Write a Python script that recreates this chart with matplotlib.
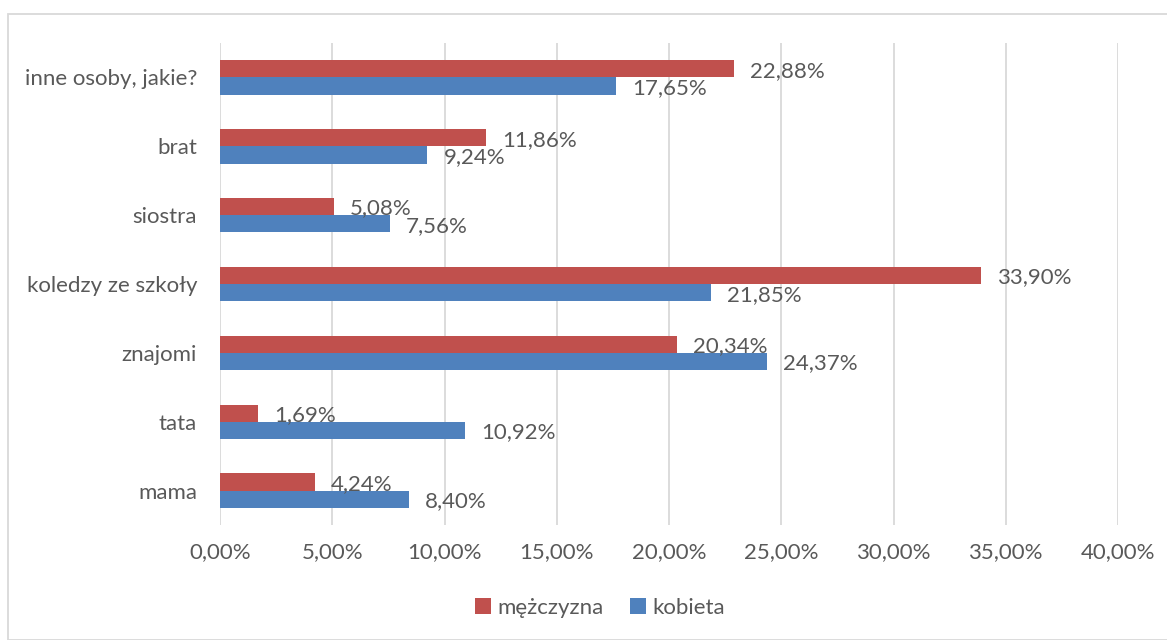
import matplotlib
matplotlib.use("Agg")
import matplotlib.pyplot as plt
from matplotlib.patches import Rectangle

categories = ["mama", "tata", "znajomi", "koledzy ze szkoły", "siostra", "brat", "inne osoby, jakie?"]
mezczyzna = [4.24, 1.69, 20.34, 33.90, 5.08, 11.86, 22.88]
kobieta = [8.40, 10.92, 24.37, 21.85, 7.56, 9.24, 17.65]
xticks = [0, 5, 10, 15, 20, 25, 30, 35, 40]

red = "#C0504D"
blue = "#4F81BD"
txt = "#595959"
plt.rcParams['font.family'] = ['Lato', 'DejaVu Sans']
fs = 16

fig = plt.figure(figsize=(11.67, 6.4), dpi=100)
ax = fig.add_axes([220/1167, 1-525/640, (1118-220)/1167, (525-43)/640])

h = 0.25
y = list(range(len(categories)))
ax.barh([v + h/2 for v in y], mezczyzna, height=h, color=red, label="mężczyzna", zorder=3)
ax.barh([v - h/2 for v in y], kobieta, height=h, color=blue, label="kobieta", zorder=3)

def fmt(v):
    return f"{v:.2f}".replace(".", ",") + "%"

for i in y:
    ax.annotate(fmt(mezczyzna[i]), (mezczyzna[i], i + h/2), xytext=(16, -2),
                textcoords="offset pixels", va="center", ha="left", fontsize=fs, color=txt)
    ax.annotate(fmt(kobieta[i]), (kobieta[i], i - h/2), xytext=(16, -2),
                textcoords="offset pixels", va="center", ha="left", fontsize=fs, color=txt)

ax.set_xlim(0, 40)
ax.set_ylim(-0.5, len(categories) - 0.5)
ax.set_xticks(xticks)
ax.set_xticklabels([fmt(v) for v in xticks], fontsize=fs, color=txt)
ax.set_yticks(y)
ax.set_yticklabels(categories, fontsize=fs, color=txt)
ax.tick_params(axis="both", length=0)
ax.tick_params(axis="x", pad=12)
ax.tick_params(axis="y", pad=16.5)
ax.grid(axis="x", color="#D9D9D9", linewidth=1.3, zorder=0)
for s in ax.spines.values():
    s.set_visible(False)

leg = fig.legend(loc="center", bbox_to_anchor=(600/1167, 1-608/640), ncol=2, frameon=False,
                 fontsize=fs, handlelength=0.7, handleheight=0.7, handletextpad=0.3, columnspacing=1.2)
for t in leg.get_texts():
    t.set_color(txt)

fig.patches.append(Rectangle((8/1167, 0), 1.0, 1-14/640, transform=fig.transFigure,
                             fill=False, edgecolor="#D9D9D9", linewidth=1.3))

fig.savefig("out.png", dpi=100)
